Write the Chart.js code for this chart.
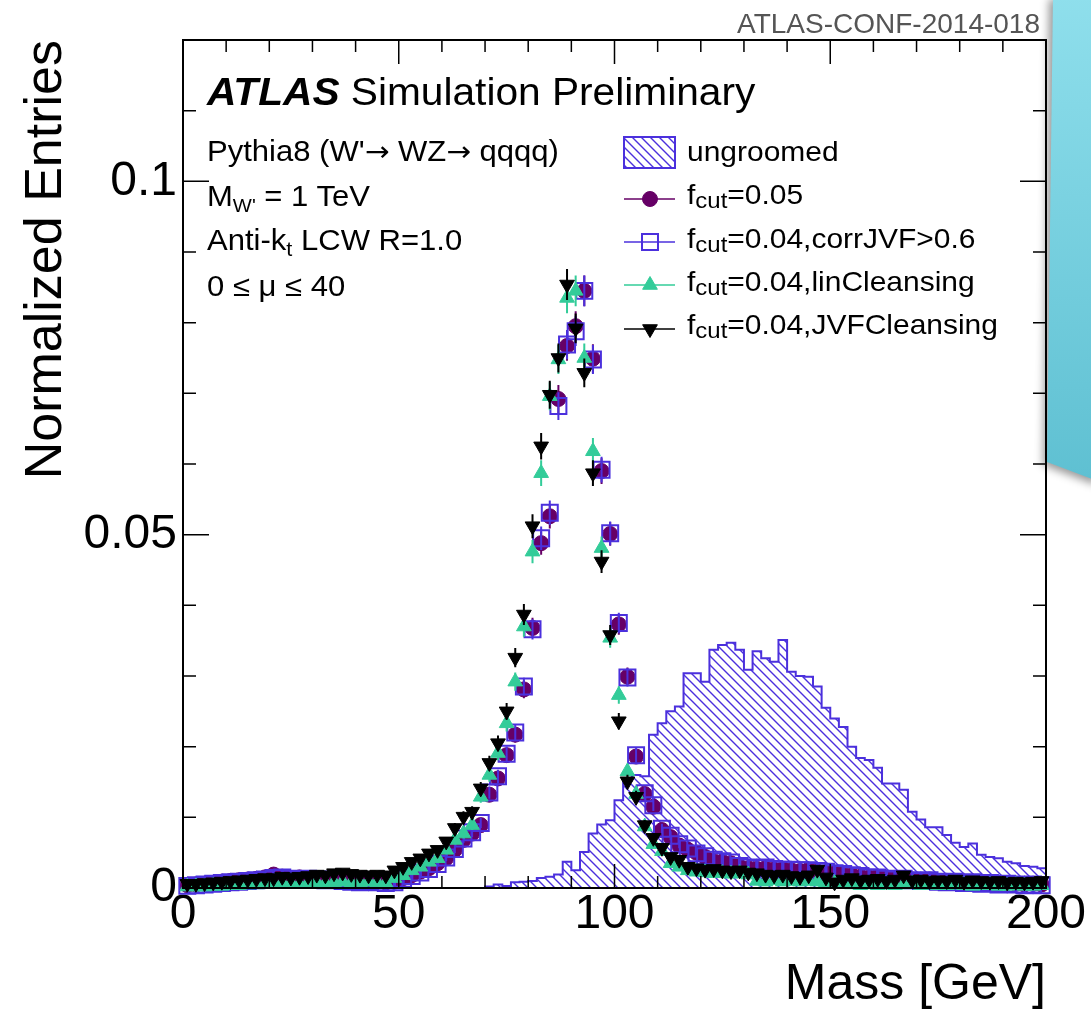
<!DOCTYPE html>
<html>
<head>
<meta charset="utf-8">
<title>Large-R jet mass, W' → WZ → qqqq</title>
<script src="https://cdn.jsdelivr.net/npm/chart.js@4.4.1/dist/chart.umd.min.js"></script>
<style>
  html, body { margin: 0; padding: 0; background: #fff; }
  #page { position: relative; width: 1091px; height: 1013px; overflow: hidden;
          font-family: 'Liberation Sans', Arial, Helvetica, sans-serif; color: #000; }
  #massPlot { position: absolute; left: 0; top: 0; }
  .label { position: absolute; white-space: nowrap; line-height: 1; transform: scaleX(1.07); transform-origin: 0 0; }
  .info { left: 207px; font-size: 29px; }
  .leg { left: 687px; font-size: 28px; }
  .sub { position: relative; font-size: 0.8em; top: 0.2em; }
  .arrow { font-family: 'DejaVu Sans', sans-serif; font-size: 0.95em; }
  #conf { position: absolute; right: 51px; top: 10px; font-size: 28px; line-height: 1; color: #555; white-space: nowrap; }
  #note { position: absolute; left: 1040px; top: -4px; width: 60px; height: 500px;
          filter: drop-shadow(-4px 3px 4px rgba(0, 0, 0, 0.4)); }
  #note .paper { width: 100%; height: 100%; background: linear-gradient(#8fdfec, #5dbfd1);
                 clip-path: polygon(13px 0, 100% 0, 100% 486px, 7px 466px); }
</style>
</head>
<body>
<div id="page">
  <canvas id="massPlot" width="1091" height="1013"></canvas>

  <div id="conf">ATLAS-CONF-2014-018</div>

  <div class="label" style="left:207px; top:73px; font-size:38px;"><b><i>ATLAS</i></b> Simulation Preliminary</div>
  <div class="label info" style="top:137px;">Pythia8 (W'<span class="arrow">→</span> WZ<span class="arrow">→</span> qqqq)</div>
  <div class="label info" style="top:182px;">M<span class="sub" style="font-size:0.65em; top:0.3em;">W'</span> = 1 TeV</div>
  <div class="label info" style="top:226px;">Anti-k<span class="sub" style="font-size:0.7em; top:0.3em;">t</span> LCW R=1.0</div>
  <div class="label info" style="top:272px;">0 ≤ μ ≤ 40</div>

  <div class="label leg" style="top:138px;">ungroomed</div>
  <div class="label leg" style="top:181px;">f<span class="sub">cut</span>=0.05</div>
  <div class="label leg" style="top:225px;">f<span class="sub">cut</span>=0.04,corrJVF&gt;0.6</div>
  <div class="label leg" style="top:268px;">f<span class="sub">cut</span>=0.04,linCleansing</div>
  <div class="label leg" style="top:311px;">f<span class="sub">cut</span>=0.04,JVFCleansing</div>

  <div id="note"><div class="paper"></div></div>
</div>

<script>
// 2 GeV mass bins from 0 to 200 GeV
const binWidth = 2;
const massCentres = Array.from({ length: 100 }, (_, i) => binWidth * i + binWidth / 2);

// axis labels
const xTickLabels = [0, 50, 100, 150, 200];
const yTickLabels = [0, 0.05, 0.1];

// ungroomed jets, one value per bin (hatched histogram)
const ungroomed = [
    0, 0, 0, 0, 0, 0, 0, 0, 0, 0,
    0, 0, 0, 0, 0, 0, 0, 0, 0, 0,
    0, 0, 0, 0, 0, 0, 0, 0, 0, 0,
    0, 0, 0, 0, 0, 0.0002, 0.0005, 0.0003, 0.0008, 0.0009,
    0.0010, 0.0014, 0.0016, 0.0019, 0.0037, 0.0025, 0.0051, 0.0077, 0.0090, 0.0096,
    0.0124, 0.0152, 0.0160, 0.0158, 0.0217, 0.0233, 0.0250, 0.0257, 0.0304, 0.0304,
    0.0292, 0.0337, 0.0344, 0.0347, 0.0337, 0.0309, 0.0335, 0.0325, 0.0320, 0.0351,
    0.0306, 0.0300, 0.0299, 0.0285, 0.0255, 0.0240, 0.0228, 0.0200, 0.0184, 0.0181,
    0.0170, 0.0148, 0.0148, 0.0139, 0.0108, 0.0097, 0.0086, 0.0086, 0.0075, 0.0064,
    0.0058, 0.0063, 0.0047, 0.0044, 0.0042, 0.0037, 0.0035, 0.0031, 0.0030, 0.0028
];

// trimmed, fcut = 0.05
const fcut005 = [
    0.0004, 0.0005, 0.0006, 0.0007, 0.0009, 0.0010, 0.0011, 0.0012, 0.0013, 0.0015,
    0.0019, 0.0016, 0.0014, 0.0015, 0.0014, 0.0013, 0.0012, 0.0013, 0.0011, 0.0010,
    0.0009, 0.0010, 0.0009, 0.0008, 0.0009, 0.0014, 0.0018, 0.0023, 0.0028, 0.0035,
    0.0042, 0.0054, 0.0068, 0.0077, 0.0089, 0.0132, 0.0155, 0.0188, 0.0217, 0.0281,
    0.0368, 0.0488, 0.0526, 0.0692, 0.0767, 0.0795, 0.0845, 0.0749, 0.0590, 0.0501,
    0.0373, 0.0299, 0.0186, 0.0133, 0.0115, 0.0082, 0.0072, 0.0060, 0.0054, 0.0050,
    0.0044, 0.0038, 0.0037, 0.0035, 0.0030, 0.0028, 0.0027, 0.0028, 0.0026, 0.0027,
    0.0025, 0.0024, 0.0026, 0.0023, 0.0022, 0.0021, 0.0019, 0.0018, 0.0016, 0.0015,
    0.0016, 0.0014, 0.0013, 0.0014, 0.0012, 0.0011, 0.0012, 0.0010, 0.0009, 0.0010,
    0.0008, 0.0009, 0.0007, 0.0008, 0.0006, 0.0007, 0.0006, 0.0005, 0.0006, 0.0005
];

// fcut = 0.04 with corrJVF > 0.6
const corrJVF = [
    0.0003, 0.0004, 0.0005, 0.0006, 0.0007, 0.0008, 0.0009, 0.0010, 0.0011, 0.0012,
    0.0014, 0.0015, 0.0013, 0.0012, 0.0013, 0.0012, 0.0011, 0.0012, 0.0010, 0.0009,
    0.0008, 0.0009, 0.0008, 0.0007, 0.0008, 0.0013, 0.0017, 0.0022, 0.0027, 0.0034,
    0.0043, 0.0055, 0.0070, 0.0079, 0.0092, 0.0135, 0.0158, 0.0190, 0.0220, 0.0285,
    0.0366, 0.0495, 0.0531, 0.0682, 0.0769, 0.0788, 0.0845, 0.0748, 0.0592, 0.0502,
    0.0375, 0.0298, 0.0188, 0.0134, 0.0117, 0.0084, 0.0074, 0.0062, 0.0056, 0.0049,
    0.0045, 0.0040, 0.0038, 0.0036, 0.0031, 0.0029, 0.0028, 0.0029, 0.0027, 0.0026,
    0.0026, 0.0025, 0.0025, 0.0024, 0.0023, 0.0021, 0.0020, 0.0018, 0.0017, 0.0015,
    0.0015, 0.0013, 0.0012, 0.0013, 0.0011, 0.0010, 0.0011, 0.0009, 0.0008, 0.0009,
    0.0007, 0.0008, 0.0006, 0.0007, 0.0005, 0.0006, 0.0005, 0.0004, 0.0005, 0.0004
];

// fcut = 0.04 with linear cleansing
const linCleansing = [
    0.0002, 0.0002, 0.0002, 0.0003, 0.0003, 0.0004, 0.0004, 0.0005, 0.0005, 0.0006,
    0.0006, 0.0007, 0.0007, 0.0006, 0.0007, 0.0008, 0.0007, 0.0008, 0.0009, 0.0007,
    0.0008, 0.0009, 0.0008, 0.0007, 0.0014, 0.0018, 0.0025, 0.0030, 0.0037, 0.0042,
    0.0054, 0.0068, 0.0077, 0.0089, 0.0129, 0.0160, 0.0191, 0.0233, 0.0292, 0.0370,
    0.0476, 0.0587, 0.0696, 0.0748, 0.0835, 0.0845, 0.0750, 0.0618, 0.0481, 0.0354,
    0.0273, 0.0165, 0.0133, 0.0087, 0.0062, 0.0052, 0.0035, 0.0030, 0.0025, 0.0023,
    0.0022, 0.0021, 0.0021, 0.0020, 0.0021, 0.0019, 0.0010, 0.0009, 0.0011, 0.0009,
    0.0010, 0.0009, 0.0010, 0.0009, 0.0008, 0.0007, 0.0006, 0.0005, 0.0004, 0.0005,
    0.0004, 0.0005, 0.0004, 0.0005, 0.0006, 0.0004, 0.0005, 0.0004, 0.0004, 0.0005,
    0.0004, 0.0003, 0.0004, 0.0004, 0.0003, 0.0003, 0.0004, 0.0003, 0.0003, 0.0004
];

// fcut = 0.04 with JVF cleansing
const jvfCleansing = [
    0.0006, 0.0006, 0.0007, 0.0008, 0.0009, 0.0010, 0.0011, 0.0012, 0.0013, 0.0014,
    0.0014, 0.0016, 0.0015, 0.0016, 0.0017, 0.0019, 0.0018, 0.0021, 0.0022, 0.0020,
    0.0019, 0.0018, 0.0019, 0.0018, 0.0025, 0.0030, 0.0037, 0.0042, 0.0049, 0.0054,
    0.0066, 0.0085, 0.0101, 0.0108, 0.0141, 0.0177, 0.0205, 0.0250, 0.0326, 0.0387,
    0.0512, 0.0625, 0.0698, 0.0750, 0.0854, 0.0792, 0.0729, 0.0587, 0.0462, 0.0358,
    0.0236, 0.0151, 0.0129, 0.0089, 0.0071, 0.0057, 0.0044, 0.0040, 0.0030, 0.0028,
    0.0026, 0.0027, 0.0025, 0.0024, 0.0025, 0.0022, 0.0021, 0.0019, 0.0018, 0.0019,
    0.0017, 0.0016, 0.0018, 0.0026, 0.0015, 0.0008, 0.0012, 0.0014, 0.0011, 0.0012,
    0.0013, 0.0010, 0.0012, 0.0018, 0.0011, 0.0012, 0.0010, 0.0011, 0.0010, 0.0012,
    0.0009, 0.0011, 0.0010, 0.0009, 0.0010, 0.0008, 0.0009, 0.0008, 0.0009, 0.0010
];

const violet = '#4b30dd';
const plum = '#660066';
const teal = '#33cc99';

// size of the statistical error bars, relative to sqrt(entries)
const errScale = 0.0075;

// "\\\" hatching for the ungroomed histogram
const makeHatch = (color) => {
    const tile = document.createElement('canvas');
    tile.width = 9;
    tile.height = 9;
    const g = tile.getContext('2d');
    g.strokeStyle = color;
    g.lineWidth = 1.4;
    g.beginPath();
    g.moveTo(-1, -1); g.lineTo(10, 10);
    g.moveTo(-1, 8); g.lineTo(1, 10);
    g.moveTo(8, -1); g.lineTo(10, 1);
    g.stroke();
    return g.createPattern(tile, 'repeat');
};
const hatch = makeHatch(violet);

// histogram outline: one point per lower bin edge, then close down at 200 GeV
const histPoints = ungroomed.map((v, i) => ({ x: i * binWidth, y: v }));
histPoints.push({ x: massCentres.length * binWidth, y: ungroomed[ungroomed.length - 1] });
histPoints.push({ x: massCentres.length * binWidth, y: 0 });

const toPoints = (values) => values.map((v, i) => ({ x: massCentres[i], y: v }));

// vertical error bars, drawn just before each marker set
const errorBars = {
    id: 'errorBars',
    beforeDatasetDraw(chart, args) {
        const ds = chart.data.datasets[args.index];
        if (!ds.errorBars) return;
        const { ctx, scales: { y } } = chart;
        ctx.save();
        ctx.strokeStyle = ds.borderColor;
        ctx.lineWidth = 2;
        ctx.beginPath();
        args.meta.data.forEach((pt, i) => {
            const v = ds.data[i].y;
            const e = errScale * Math.sqrt(v);
            ctx.moveTo(pt.x, y.getPixelForValue(v + e));
            ctx.lineTo(pt.x, y.getPixelForValue(Math.max(v - e, 0)));
        });
        ctx.stroke();
        ctx.restore();
    }
};

// frame with inward ticks on all four sides
const axisFrame = {
    id: 'axisFrame',
    afterDatasetsDraw(chart) {
        const { ctx, chartArea: a, scales: { x, y } } = chart;
        ctx.save();
        ctx.strokeStyle = '#000';
        ctx.lineWidth = 1.5;
        ctx.beginPath();
        for (let m = 0; m <= 200; m += 10) {
            const px = x.getPixelForValue(m);
            const len = m % 50 === 0 ? 24 : 12;
            ctx.moveTo(px, a.bottom); ctx.lineTo(px, a.bottom - len);
            ctx.moveTo(px, a.top); ctx.lineTo(px, a.top + len);
        }
        for (let k = 0; k <= 12; k++) {
            const py = y.getPixelForValue(k * 0.01);
            const len = k % 5 === 0 ? 26 : 13;
            ctx.moveTo(a.left, py); ctx.lineTo(a.left + len, py);
            ctx.moveTo(a.right, py); ctx.lineTo(a.right - len, py);
        }
        ctx.stroke();
        ctx.lineWidth = 2;
        ctx.strokeRect(a.left, a.top, a.right - a.left, a.bottom - a.top);
        ctx.restore();
    }
};

// legend symbols (the text sits in the page next to them)
const legendSymbols = {
    id: 'legendSymbols',
    afterDraw(chart) {
        const ctx = chart.ctx;
        ctx.save();
        ctx.fillStyle = hatch;
        ctx.fillRect(624, 137, 51, 31);
        ctx.strokeStyle = violet;
        ctx.lineWidth = 2;
        ctx.strokeRect(624, 137, 51, 31);

        const rows = [199, 242, 285, 329];
        chart.data.datasets.filter(ds => ds.errorBars).forEach((ds, i) => {
            const yRow = rows[i];
            ctx.strokeStyle = ds.borderColor;
            ctx.lineWidth = 1.5;
            ctx.beginPath();
            ctx.moveTo(624, yRow);
            ctx.lineTo(675, yRow);
            ctx.stroke();
            ctx.fillStyle = ds.pointBackgroundColor;
            ctx.lineWidth = ds.pointBorderWidth;
            Chart.helpers.drawPoint(ctx, {
                pointStyle: ds.pointStyle,
                radius: ds.pointRadius,
                rotation: ds.pointRotation || 0,
                borderWidth: ds.pointBorderWidth
            }, 650, yRow);
        });
        ctx.restore();
    }
};

Chart.defaults.font.family = "'Liberation Sans', Arial, Helvetica, sans-serif";
Chart.defaults.color = '#000';

const ctx = document.querySelector('#massPlot').getContext('2d');

new Chart(ctx, {
    type: 'scatter',
    data: {
        datasets: [
            {
                type: 'line',
                label: 'ungroomed',
                data: histPoints,
                stepped: true,
                borderColor: violet,
                borderWidth: 2,
                backgroundColor: hatch,
                fill: 'origin',
                pointRadius: 0,
                order: 5
            },
            {
                label: 'fcut=0.05',
                data: toPoints(fcut005),
                errorBars: true,
                borderColor: plum,
                pointStyle: 'circle',
                pointRadius: 7.5,
                pointBackgroundColor: plum,
                pointBorderColor: plum,
                pointBorderWidth: 1,
                clip: false,
                order: 4
            },
            {
                label: 'fcut=0.04,corrJVF>0.6',
                data: toPoints(corrJVF),
                errorBars: true,
                borderColor: violet,
                pointStyle: 'rect',
                pointRadius: 11.3,
                pointBackgroundColor: 'rgba(0,0,0,0)',
                pointBorderColor: violet,
                pointBorderWidth: 2,
                clip: false,
                order: 3
            },
            {
                label: 'fcut=0.04,linCleansing',
                data: toPoints(linCleansing),
                errorBars: true,
                borderColor: teal,
                pointStyle: 'triangle',
                pointRadius: 8.5,
                pointBackgroundColor: teal,
                pointBorderColor: teal,
                pointBorderWidth: 1,
                clip: false,
                order: 2
            },
            {
                label: 'fcut=0.04,JVFCleansing',
                data: toPoints(jvfCleansing),
                errorBars: true,
                borderColor: '#000',
                pointStyle: 'triangle',
                pointRotation: 180,
                pointRadius: 8.5,
                pointBackgroundColor: '#000',
                pointBorderColor: '#000',
                pointBorderWidth: 1,
                clip: false,
                order: 1
            }
        ]
    },
    options: {
        responsive: false,
        animation: false,
        devicePixelRatio: 1,
        layout: { autoPadding: false, padding: { top: 40, right: 45, bottom: 0, left: 0 } },
        plugins: {
            legend: { display: false },
            tooltip: { enabled: false }
        },
        scales: {
            x: {
                type: 'linear',
                min: 0,
                max: 200,
                grid: { display: false, drawTicks: false },
                border: { display: false },
                afterBuildTicks: s => { s.ticks = xTickLabels.map(v => ({ value: v })); },
                afterFit: s => { s.height = 125; },
                ticks: { font: { size: 48 }, padding: -2, maxRotation: 0, autoSkip: false },
                title: {
                    display: true,
                    text: 'Mass [GeV]',
                    align: 'end',
                    font: { size: 50 },
                    padding: { top: 0, bottom: -2 }
                }
            },
            y: {
                type: 'linear',
                min: 0,
                max: 0.12,
                grid: { display: false, drawTicks: false },
                border: { display: false },
                afterBuildTicks: s => { s.ticks = yTickLabels.map(v => ({ value: v })); },
                afterFit: s => { s.width = 183; },
                ticks: {
                    font: { size: 48 },
                    padding: 6,
                    callback: v => String(+v.toFixed(2))
                },
                title: {
                    display: true,
                    text: 'Normalized Entries',
                    align: 'end',
                    font: { size: 52 },
                    padding: { top: 15, bottom: 0 }
                }
            }
        }
    },
    plugins: [errorBars, axisFrame, legendSymbols]
});
</script>
</body>
</html>
